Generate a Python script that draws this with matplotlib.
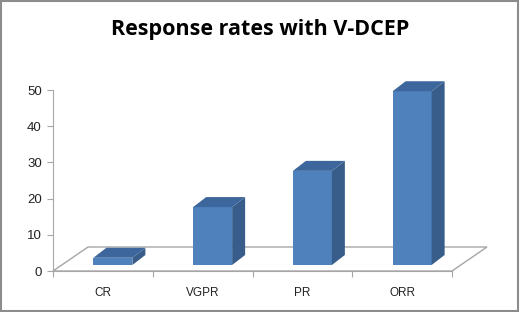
import matplotlib
matplotlib.use("Agg")
import matplotlib.pyplot as plt
from matplotlib.patches import Polygon, Rectangle

categories = ["CR", "VGPR", "PR", "ORR"]
values = [2, 16, 26, 48]
y_ticks = [0, 10, 20, 30, 40, 50]
title = "Response rates with V-DCEP"

front_col = "#4F81BD"
side_col = "#385D8A"
top_col = "#3D679C"
axis_col = "#A6A6A6"

fig = plt.figure(figsize=(5.2, 3.12), dpi=100)
# axes: x from px 53 to 452, y: 0 at px 271, 50 at px 90
W, H = 520, 312
x0, x1 = 53, 452
py0 = 271
ppu = (271 - 90) / 50.0
ymax = 55
ytop_px = py0 - ymax * ppu
ax = fig.add_axes([x0 / W, (H - py0) / H, (x1 - x0) / W, (py0 - ytop_px) / H])
ax.set_xlim(-0.5, len(categories) - 0.5)
ax.set_ylim(0, ymax)

xu = (x1 - x0) / len(categories)  # px per x unit
# floor depth offset
fdx, fdy = 35 / xu, 24 / ppu
floor = Polygon([(-0.5, 0), (len(categories) - 0.5, 0),
                 (len(categories) - 0.5 + fdx, fdy), (-0.5 + fdx, fdy)],
                closed=True, facecolor="white", edgecolor=axis_col, lw=1.0,
                clip_on=False, zorder=1)
ax.add_patch(floor)

# bars
shift = 10 / xu
bw = 39 / xu
base = 6 / ppu
ddx, ddy = 13 / xu, 10 / ppu
for i, v in enumerate(values):
    xl = i + shift - bw / 2
    xr = xl + bw
    yb = base
    yt = base + v
    ax.add_patch(Rectangle((xl, yb), bw, v, facecolor=front_col, edgecolor="none", zorder=3, clip_on=False))
    ax.add_patch(Polygon([(xr, yb), (xr + ddx, yb + ddy), (xr + ddx, yt + ddy), (xr, yt)],
                         closed=True, facecolor=side_col, edgecolor="none", zorder=3, clip_on=False))
    ax.add_patch(Polygon([(xl, yt), (xr, yt), (xr + ddx, yt + ddy), (xl + ddx, yt + ddy)],
                         closed=True, facecolor=top_col, edgecolor="none", zorder=3, clip_on=False))

for s in ["top", "right"]:
    ax.spines[s].set_visible(False)
ax.spines["left"].set_bounds(0, 50)
ax.spines["left"].set_color(axis_col)
ax.spines["bottom"].set_color(axis_col)
ax.spines["left"].set_zorder(0.5)
ax.spines["bottom"].set_zorder(2)

ax.set_yticks(y_ticks)
ax.set_yticklabels([str(t) for t in y_ticks], fontsize=9.5, family="Liberation Sans", color="#222222")
ax.tick_params(axis="y", length=4, color=axis_col, pad=4)
ax.set_xticks([i - 0.5 for i in range(len(categories) + 1)])
ax.set_xticklabels([])
ax.tick_params(axis="x", length=4, color=axis_col)
for i, c in enumerate(categories):
    ax.text(i, -4.5, c, ha="center", va="top", fontsize=8.5, family="Liberation Sans", color="#222222")
ax.patch.set_visible(False)

fig.text(0.5, 1 - 30 / H, title, ha="center", va="center", fontsize=15.5,
         fontweight="bold", family="Open Sans")
fig.add_artist(Rectangle((0.002, 0.003), 0.994, 0.994, transform=fig.transFigure,
                         fill=False, edgecolor="#8C8C8C", lw=1.5))
fig.savefig("out.png", dpi=100)
